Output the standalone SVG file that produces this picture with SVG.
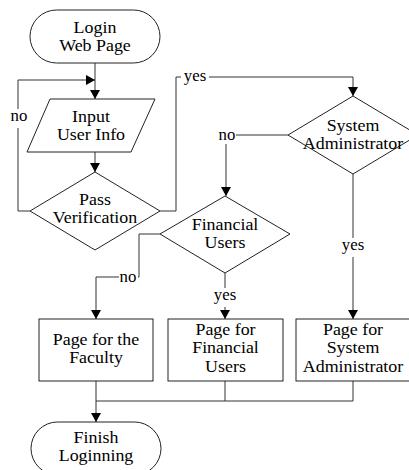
<svg xmlns="http://www.w3.org/2000/svg" width="409" height="470" viewBox="0 0 409 470">
  <defs>
    <marker id="arrow" markerUnits="userSpaceOnUse" markerWidth="9" markerHeight="10" refX="9" refY="5" orient="auto">
      <path d="M0,0 L9,5 L0,10 Z" fill="#000"/>
    </marker>
  </defs>
  <style>
    .shape { fill: #fff; stroke: #222; stroke-width: 1; }
    .edge { fill: none; stroke: #333; stroke-width: 1; }
    .arrow { marker-end: url(#arrow); }
    .bg { fill: #fff; stroke: none; }
  </style>
  <rect width="409" height="470" fill="#fff"/>

  <!-- connectors -->
  <g id="connectors">
    <path class="edge arrow" d="M95,63 V99"/>
    <path class="edge arrow" d="M95,152 V172"/>
    <path class="edge arrow" d="M30,211 H18 V80 H95"/>
    <path class="edge arrow" d="M160,211 H176 V77 H353 V96"/>
    <path class="edge arrow" d="M288,135 H226 V196"/>
    <path class="edge arrow" d="M353,174 V319"/>
    <path class="edge arrow" d="M225,273 V319"/>
    <path class="edge arrow" d="M160,234 H139 V277 H96 V319"/>
    <path class="edge arrow" d="M96,381 V422"/>
    <path class="edge" d="M96,401 H353 M225,381 V401 M353,381 V401"/>

    <!-- edge labels -->
    <rect class="bg" x="9" y="109" width="19" height="19"/>
    <rect class="bg" x="181" y="70" width="28" height="16"/>
    <rect class="bg" x="217" y="128" width="19" height="16"/>
    <rect class="bg" x="340" y="238" width="27" height="19"/>
    <rect class="bg" x="212" y="288" width="27" height="19"/>
    <rect class="bg" x="119" y="270" width="19" height="15"/>
    <g font-family="Liberation Serif" font-size="16" text-anchor="middle" fill="#000">
      <text style="font-family:'Liberation Serif',serif" transform="translate(19 0) scale(1.05 1)" x="0" y="121">no</text>
      <text style="font-family:'Liberation Serif',serif" transform="translate(195 0) scale(1.05 1)" x="0" y="81">yes</text>
      <text style="font-family:'Liberation Serif',serif" transform="translate(227 0) scale(1.05 1)" x="0" y="140">no</text>
      <text style="font-family:'Liberation Serif',serif" transform="translate(353 0) scale(1.05 1)" x="0" y="250">yes</text>
      <text style="font-family:'Liberation Serif',serif" transform="translate(225 0) scale(1.05 1)" x="0" y="300">yes</text>
      <text style="font-family:'Liberation Serif',serif" transform="translate(128 0) scale(1.05 1)" x="0" y="282">no</text>
    </g>
  </g>

  <!-- start terminal -->
  <g id="login" font-family="Liberation Serif" font-size="16" text-anchor="middle">
    <rect class="shape" x="30" y="10" width="130" height="53" rx="26.5" ry="26.5"/>
    <text style="font-family:'Liberation Serif',serif" transform="translate(95 0) scale(1.12 1)"><tspan x="0" y="33">Login</tspan><tspan x="0" y="51">Web Page</tspan></text>
  </g>

  <!-- input data -->
  <g id="input" font-family="Liberation Serif" font-size="16" text-anchor="middle">
    <polygon class="shape" points="50,99 155,99 131,152 27,152"/>
    <text style="font-family:'Liberation Serif',serif" transform="translate(91 0) scale(1.12 1)"><tspan x="0" y="122">Input</tspan><tspan x="0" y="140">User Info</tspan></text>
  </g>

  <!-- decisions -->
  <g id="verify" font-family="Liberation Serif" font-size="16" text-anchor="middle">
    <polygon class="shape" points="95,172 160,211 95,250 30,211"/>
    <text style="font-family:'Liberation Serif',serif" transform="translate(95 0) scale(1.12 1)"><tspan x="0" y="205">Pass</tspan><tspan x="0" y="223">Verification</tspan></text>
  </g>

  <g id="sysadmin" font-family="Liberation Serif" font-size="16" text-anchor="middle">
    <polygon class="shape" points="353,96 418,135 353,174 288,135"/>
    <text style="font-family:'Liberation Serif',serif" transform="translate(353 0) scale(1.12 1)"><tspan x="0" y="131">System</tspan><tspan x="0" y="149">Administrator</tspan></text>
  </g>

  <g id="financial" font-family="Liberation Serif" font-size="16" text-anchor="middle">
    <polygon class="shape" points="225,196 290,234 225,273 160,234"/>
    <text style="font-family:'Liberation Serif',serif" transform="translate(225 0) scale(1.12 1)"><tspan x="0" y="230">Financial</tspan><tspan x="0" y="248">Users</tspan></text>
  </g>

  <!-- pages -->
  <g id="page-faculty" font-family="Liberation Serif" font-size="16" text-anchor="middle">
    <rect class="shape" x="39" y="319" width="114" height="62"/>
    <text style="font-family:'Liberation Serif',serif" transform="translate(96 0) scale(1.12 1)"><tspan x="0" y="345">Page for the</tspan><tspan x="0" y="363">Faculty</tspan></text>
  </g>

  <g id="page-financial" font-family="Liberation Serif" font-size="16" text-anchor="middle">
    <rect class="shape" x="168" y="319" width="115" height="62"/>
    <text style="font-family:'Liberation Serif',serif" transform="translate(225.5 0) scale(1.12 1)"><tspan x="0" y="335">Page for</tspan><tspan x="0" y="353">Financial</tspan><tspan x="0" y="372">Users</tspan></text>
  </g>

  <g id="page-sysadmin" font-family="Liberation Serif" font-size="16" text-anchor="middle">
    <rect class="shape" x="296" y="319" width="114" height="62"/>
    <text style="font-family:'Liberation Serif',serif" transform="translate(353 0) scale(1.12 1)"><tspan x="0" y="335">Page for</tspan><tspan x="0" y="353">System</tspan><tspan x="0" y="372">Administrator</tspan></text>
  </g>

  <!-- end terminal -->
  <g id="finish" font-family="Liberation Serif" font-size="16" text-anchor="middle">
    <rect class="shape" x="31" y="422" width="130" height="53" rx="26.5" ry="26.5"/>
    <text style="font-family:'Liberation Serif',serif" transform="translate(96 0) scale(1.12 1)"><tspan x="0" y="443">Finish</tspan><tspan x="0" y="461">Loginning</tspan></text>
  </g>
</svg>
